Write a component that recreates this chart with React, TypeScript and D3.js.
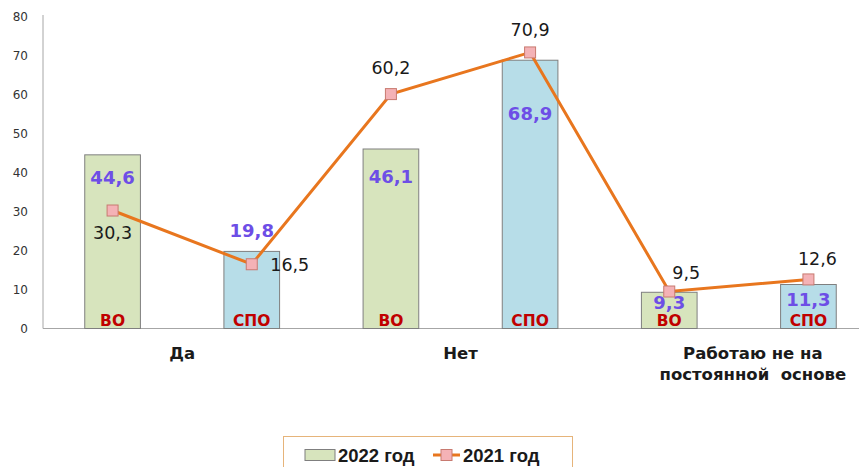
import React from "react";
import * as d3 from "d3";

const groups = ["Да", "Нет", "Работаю не на постоянной основе"];
const groupLines = [["Да"], ["Нет"], ["Работаю не на", "постоянной  основе"]];
const barKeys = ["Да-ВО", "Да-СПО", "Нет-ВО", "Нет-СПО", "Раб-ВО", "Раб-СПО"];
const barTypes = ["ВО", "СПО", "ВО", "СПО", "ВО", "СПО"];
const values2022 = [44.6, 19.8, 46.1, 68.9, 9.3, 11.3];
const values2021 = [30.3, 16.5, 60.2, 70.9, 9.5, 12.6];
const yTicks = [0, 10, 20, 30, 40, 50, 60, 70, 80];
const seriesNames = ["2022 год", "2021 год"];

// layout offsets for labels (pixels)
const barLabelDy = [23, -21, 28, 53, 10, 15];
const lineLabelDx = [0, 38, 0, 0, 17, 9];
const lineLabelDy = [22, 1, -26, -22, -19, -20];

const W = 859;
const H = 467;
const fmt = (v: number) => v.toFixed(1).replace(".", ",");

export default function App() {
  const x = d3.scaleBand<string>().domain(barKeys).range([43, 878]).paddingInner(0.6).paddingOuter(0.3);
  const y = d3.scaleLinear().domain([0, 80]).range([328.5, 17]);
  const colors = ["#d7e4bd", "#b7dde8"];
  const cx = (i: number) => (x(barKeys[i]) as number) + x.bandwidth() / 2;
  const line = d3
    .line<number>()
    .x((_, i) => cx(i))
    .y((d) => y(d));
  const groupCenters = [0, 1, 2].map((g) => (cx(g * 2) + cx(g * 2 + 1)) / 2);
  groupCenters[2] += 14;
  return (
    <svg width={W} height={H} style={{ position: "absolute", left: 0, top: 0, background: "#fff" }}>
      <rect x={0} y={0} width={W} height={H} fill="#fff" />
      {/* y axis */}
      <line x1={43} x2={43} y1={y(80) - 2} y2={y(0)} stroke="#a6a6a6" strokeWidth={1} />
      <line x1={43} x2={W} y1={y(0)} y2={y(0)} stroke="#a6a6a6" strokeWidth={1} />
      {yTicks.map((t) => (
        <text
          key={t}
          x={28}
          y={y(t)}
          textAnchor="end"
          dominantBaseline="central"
          fontFamily="DejaVu Sans"
          fontSize={12}
          fill="#333"
        >
          {t}
        </text>
      ))}
      {/* bars */}
      {values2022.map((v, i) => (
        <rect
          key={barKeys[i]}
          x={x(barKeys[i])}
          y={y(v)}
          width={x.bandwidth()}
          height={y(0) - y(v)}
          fill={colors[i % 2]}
          stroke="#7f7f7f"
          strokeWidth={1}
        />
      ))}
      {barTypes.map((t, i) => (
        <text
          key={"t" + i}
          x={cx(i)}
          y={y(0) - 2.5}
          textAnchor="middle"
          fontFamily="DejaVu Sans"
          fontWeight="bold"
          fontSize={15.5}
          fill="#c00000"
        >
          {t}
        </text>
      ))}
      {values2022.map((v, i) => (
        <text
          key={"v" + i}
          x={cx(i)}
          y={y(v) + barLabelDy[i]}
          textAnchor="middle"
          dominantBaseline="central"
          fontFamily="DejaVu Sans"
          fontWeight="bold"
          fontSize={18}
          fill="#6d4ee6"
        >
          {fmt(v)}
        </text>
      ))}
      {/* line */}
      <path d={line(values2021) || ""} fill="none" stroke="#e8761e" strokeWidth={3} />
      {values2021.map((v, i) => (
        <rect
          key={"m" + i}
          x={cx(i) - 5.5}
          y={y(v) - 5.5}
          width={11}
          height={11}
          fill="#f4b2b6"
          stroke="#c87a70"
          strokeWidth={1}
        />
      ))}
      {values2021.map((v, i) => (
        <text
          key={"l" + i}
          x={cx(i) + lineLabelDx[i]}
          y={y(v) + lineLabelDy[i]}
          textAnchor="middle"
          dominantBaseline="central"
          fontFamily="DejaVu Sans"
          fontSize={17.5}
          fill="#1a1a1a"
        >
          {fmt(v)}
        </text>
      ))}
      {/* category labels */}
      {groupLines.map((lines, g) =>
        lines.map((ln, j) => (
          <text
            key={groups[g] + j}
            x={groupCenters[g]}
            y={359 + j * 21}
            textAnchor="middle"
            fontFamily="DejaVu Sans"
            fontWeight="bold"
            fontSize={16.5}
            fill="#1a1a1a"
            xmlSpace="preserve"
          >
            {ln}
          </text>
        ))
      )}
      {/* legend */}
      <rect x={283.5} y={436.5} width={289} height={40} fill="#fff" stroke="#e6b47a" strokeWidth={1} />
      <rect x={305} y={449.5} width={30} height={11} fill={colors[0]} stroke="#7f7f7f" strokeWidth={1} />
      <text x={338} y={462} fontFamily="Liberation Sans" fontWeight="bold" fontSize={18.5} fill="#1a1a1a">
        {seriesNames[0]}
      </text>
      <line x1={433} x2={460} y1={455} y2={455} stroke="#e8761e" strokeWidth={3} />
      <rect x={441} y={449.5} width={11} height={11} fill="#f4b2b6" stroke="#c87a70" strokeWidth={1} />
      <text x={463} y={462} fontFamily="Liberation Sans" fontWeight="bold" fontSize={18.5} fill="#1a1a1a">
        {seriesNames[1]}
      </text>
    </svg>
  );
}
